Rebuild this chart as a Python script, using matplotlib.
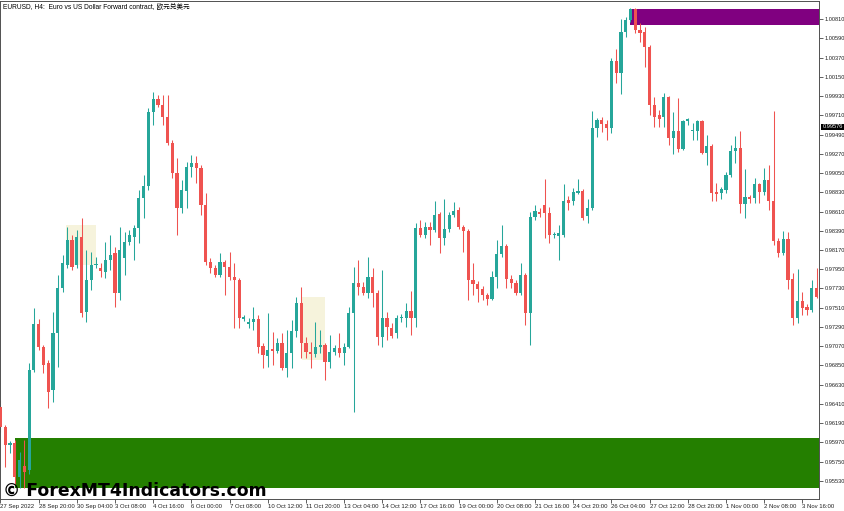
import numpy as np
import matplotlib
matplotlib.use('Agg')
import matplotlib.pyplot as plt
from matplotlib.patches import Rectangle

# EURUSD H4 candles (bar 0 = 27 Sep 12:00)
opens = [
    0.96375, 0.96147, 0.95941, 0.95964, 0.95575, 0.95701, 0.95655, 0.96798, 0.97324, 0.97061,
    0.96879, 0.96570, 0.97221, 0.97736, 0.97998, 0.98284, 0.97998, 0.98318, 0.97461, 0.97827,
    0.97998, 0.97964, 0.97918, 0.98055, 0.98136, 0.97679, 0.98079, 0.98261, 0.98318, 0.98422,
    0.98764, 0.98901, 0.99747, 0.99895, 0.99827, 0.99690, 0.99393, 0.99050, 0.98650, 0.98844,
    0.99118, 0.99164, 0.99107, 0.98684, 0.98032, 0.97964, 0.97884, 0.98032, 0.97975, 0.97861,
    0.97827, 0.97381, 0.97324, 0.97347, 0.97381, 0.97072, 0.96958, 0.97038, 0.97016, 0.97107,
    0.96822, 0.96993, 0.97244, 0.97564, 0.97107, 0.97004, 0.96981, 0.97061, 0.97084, 0.96890,
    0.97004, 0.97050, 0.96993, 0.97061, 0.97450, 0.97793, 0.97747, 0.97679, 0.97861, 0.97679,
    0.97175, 0.97393, 0.97279, 0.97221, 0.97393, 0.97393, 0.97473, 0.97393, 0.98422, 0.98341,
    0.98433, 0.98398, 0.98581, 0.98307, 0.98410, 0.98570, 0.98627, 0.98433, 0.98387, 0.97827,
    0.97781, 0.97724, 0.97656, 0.97610, 0.97861, 0.98124, 0.98215, 0.97838, 0.97793, 0.97679,
    0.97884, 0.97450, 0.98547, 0.98604, 0.98684, 0.98593, 0.98341, 0.98329, 0.98341, 0.98741,
    0.98730, 0.98821, 0.98844, 0.98558, 0.98650, 0.99565, 0.99656, 0.99610, 0.99565, 1.00330,
    1.00193, 1.00661, 1.00798, 1.00924, 1.00684, 1.00661, 1.00490, 0.99827, 0.99713, 0.99690,
    0.99918, 0.99450, 0.99530, 0.99324, 0.99645, 0.99530, 0.99530, 0.99645, 0.99279, 0.99358,
    0.98832, 0.98821, 0.98855, 0.99027, 0.99302, 0.99336, 0.98695, 0.98775, 0.98764, 0.98924,
    0.98832, 0.98970, 0.98730, 0.98273, 0.98136, 0.98295, 0.97838, 0.97393, 0.97587, 0.97518,
    0.97484, 0.97736]
highs = [
    0.96455, 0.96170, 0.95987, 0.95998, 0.95861, 0.95998, 0.96879, 0.97507, 0.97381, 0.97084,
    0.96913, 0.97461, 0.97884, 0.98113, 0.98433, 0.98341, 0.98398, 0.98536, 0.98170, 0.98147,
    0.98090, 0.98021, 0.98261, 0.98341, 0.98204, 0.98433, 0.98375, 0.98398, 0.98456, 0.98855,
    0.99027, 0.99793, 0.99975, 0.99941, 0.99941, 0.99941, 0.99427, 0.99222, 0.98970, 0.99175,
    0.99256, 0.99244, 0.99141, 0.98821, 0.98079, 0.97998, 0.98136, 0.98055, 0.98147, 0.98021,
    0.97850, 0.97427, 0.97393, 0.97518, 0.97427, 0.97107, 0.97450, 0.97232, 0.97164, 0.97221,
    0.97255, 0.97370, 0.97633, 0.97747, 0.97175, 0.97118, 0.97347, 0.97255, 0.97107, 0.97198,
    0.97084, 0.97221, 0.97107, 0.97518, 0.97975, 0.98055, 0.97804, 0.98090, 0.97964, 0.97713,
    0.97941, 0.97461, 0.97336, 0.97427, 0.97438, 0.97564, 0.97702, 0.98479, 0.98513, 0.98490,
    0.98490, 0.98730, 0.98604, 0.98752, 0.98604, 0.98718, 0.98661, 0.98456, 0.98410, 0.98021,
    0.97816, 0.97758, 0.97679, 0.97930, 0.98284, 0.98456, 0.98238, 0.97884, 0.97827, 0.98021,
    0.97907, 0.98604, 0.98684, 0.98650, 0.98981, 0.98661, 0.98375, 0.98456, 0.98924, 0.98786,
    0.98879, 0.98981, 0.98867, 0.98752, 0.99759, 0.99679, 0.99690, 0.99656, 1.00365, 1.00467,
    1.00810, 1.00833, 1.00936, 1.00936, 1.00764, 1.00718, 1.00513, 0.99918, 0.99770, 0.99964,
    0.99929, 0.99747, 0.99907, 0.99656, 0.99679, 0.99622, 0.99656, 0.99656, 0.99484, 0.99381,
    0.98936, 0.98890, 0.99061, 0.99370, 0.99472, 0.99530, 0.99095, 0.98798, 0.98993, 0.98936,
    0.99107, 0.99141, 0.99759, 0.98307, 0.98387, 0.98375, 0.97907, 0.97952, 0.97690, 0.97552,
    0.97827, 0.97964]
lows = [
    0.96090, 0.95690, 0.95850, 0.95495, 0.95450, 0.95450, 0.95609, 0.96775, 0.97027, 0.96764,
    0.96364, 0.96432, 0.96833, 0.97690, 0.97964, 0.97941, 0.97964, 0.97404, 0.97347, 0.97713,
    0.97964, 0.97861, 0.97850, 0.97941, 0.97518, 0.97598, 0.97884, 0.98227, 0.98055, 0.98250,
    0.98536, 0.98855, 0.99599, 0.99804, 0.99599, 0.99370, 0.98993, 0.98341, 0.98593, 0.98650,
    0.99004, 0.98936, 0.98570, 0.97998, 0.97907, 0.97861, 0.97861, 0.97656, 0.97827, 0.97279,
    0.97279, 0.97359, 0.97279, 0.97255, 0.96993, 0.96822, 0.96833, 0.96856, 0.96993, 0.96798,
    0.96718, 0.96822, 0.97175, 0.96936, 0.96936, 0.96822, 0.96947, 0.96993, 0.96684, 0.96822,
    0.96970, 0.96947, 0.96856, 0.97050, 0.96318, 0.97656, 0.97656, 0.97622, 0.97518, 0.97084,
    0.97061, 0.97141, 0.97164, 0.97164, 0.97347, 0.97290, 0.97198, 0.97290, 0.98318, 0.98307,
    0.98227, 0.98375, 0.98136, 0.98227, 0.98375, 0.98547, 0.98410, 0.98147, 0.97598, 0.97656,
    0.97575, 0.97598, 0.97541, 0.97598, 0.97736, 0.98090, 0.97736, 0.97736, 0.97656, 0.97656,
    0.97313, 0.97084, 0.98513, 0.98547, 0.98307, 0.98250, 0.98307, 0.98055, 0.98318, 0.98627,
    0.98684, 0.98809, 0.98513, 0.98479, 0.98627, 0.99461, 0.99518, 0.99427, 0.99507, 1.00079,
    0.99952, 1.00604, 1.00775, 1.00650, 1.00547, 1.00261, 0.99713, 0.99576, 0.99576, 0.99576,
    0.99370, 0.99267, 0.99290, 0.99313, 0.99599, 0.99427, 0.99427, 0.99267, 0.99141, 0.98730,
    0.98730, 0.98752, 0.98821, 0.99004, 0.99164, 0.98593, 0.98536, 0.98707, 0.98707, 0.98707,
    0.98798, 0.98627, 0.98227, 0.98090, 0.98113, 0.97724, 0.97313, 0.97336, 0.97427, 0.97427,
    0.97461, 0.97622]
closes = [
    0.96147, 0.95941, 0.95964, 0.95575, 0.95770, 0.95632, 0.96798, 0.97324, 0.97061, 0.96856,
    0.96547, 0.97221, 0.97736, 0.98021, 0.98284, 0.97975, 0.98318, 0.97450, 0.97827, 0.97998,
    0.98009, 0.97930, 0.98055, 0.98113, 0.97679, 0.98170, 0.98261, 0.98341, 0.98422, 0.98764,
    0.98901, 0.99747, 0.99895, 0.99827, 0.99690, 0.99393, 0.99050, 0.98650, 0.98855, 0.99118,
    0.99164, 0.99107, 0.98684, 0.98032, 0.97964, 0.97884, 0.98032, 0.97975, 0.97861, 0.97827,
    0.97393, 0.97404, 0.97347, 0.97381, 0.97061, 0.96970, 0.97027, 0.97016, 0.97107, 0.96822,
    0.96993, 0.97244, 0.97564, 0.97107, 0.97004, 0.96981, 0.97061, 0.97084, 0.96890, 0.97004,
    0.97050, 0.96993, 0.97061, 0.97450, 0.97793, 0.97747, 0.97679, 0.97861, 0.97679, 0.97175,
    0.97393, 0.97290, 0.97186, 0.97393, 0.97404, 0.97473, 0.97393, 0.98422, 0.98341, 0.98433,
    0.98398, 0.98570, 0.98307, 0.98410, 0.98570, 0.98616, 0.98433, 0.98387, 0.97827, 0.97781,
    0.97724, 0.97656, 0.97610, 0.97861, 0.98124, 0.98215, 0.97838, 0.97793, 0.97679, 0.97884,
    0.97450, 0.98547, 0.98616, 0.98581, 0.98593, 0.98341, 0.98352, 0.98364, 0.98730, 0.98707,
    0.98832, 0.98844, 0.98536, 0.98650, 0.99565, 0.99656, 0.99610, 0.99565, 1.00330, 1.00193,
    1.00661, 1.00798, 1.00924, 1.00684, 1.00650, 1.00490, 0.99827, 0.99690, 0.99667, 0.99918,
    0.99450, 0.99530, 0.99324, 0.99645, 0.99667, 0.99541, 0.99645, 0.99279, 0.99358, 0.98821,
    0.98809, 0.98867, 0.99027, 0.99302, 0.99336, 0.98695, 0.98775, 0.98752, 0.98924, 0.98832,
    0.98970, 0.98730, 0.98273, 0.98136, 0.98295, 0.97827, 0.97393, 0.97587, 0.97507, 0.97484,
    0.97736, 0.97633]

time_labels = ['27 Sep 2022', '28 Sep 20:00', '30 Sep 04:00', '3 Oct 08:00', '4 Oct 16:00',
               '6 Oct 00:00', '7 Oct 08:00', '10 Oct 12:00', '11 Oct 20:00', '13 Oct 04:00',
               '14 Oct 12:00', '17 Oct 16:00', '19 Oct 00:00', '20 Oct 08:00', '21 Oct 16:00',
               '24 Oct 20:00', '26 Oct 04:00', '27 Oct 12:00', '28 Oct 20:00', '1 Nov 00:00',
               '2 Nov 08:00', '3 Nov 16:00']
label_step = 8  # one time label every 8 bars

price_ticks = [1.00810 - 0.0022 * k for k in range(25)]
last_price = 0.99576

# supply / demand zones: (first bar, last bar, low, high)
supply_zone = (131.95, 180, 1.00741, 1.00930)
demand_zone = (2.95, 180, 0.95450, 0.96021)
fvg_zones = [(13.8, 20.0, 0.97998, 0.98456), (63.2, 67.9, 0.96913, 0.97633)]

title = 'EURUSD, H4:  Euro vs US Dollar Forward contract, 欧元兑美元'

bull = '#26a69a'
bear = '#ef5350'

o = np.array(opens); h = np.array(highs); l = np.array(lows); c = np.array(closes)
x = np.arange(len(o))
cols = [bull if cc >= oo else bear for oo, cc in zip(o, c)]

W, H = 845, 511
fig = plt.figure(figsize=(W / 100, H / 100), dpi=100)
ax = fig.add_axes([0, 12 / H, 819 / W, 498 / H])

# zones behind the candles
for x0, x1, y0, y1 in fvg_zones:
  ax.add_patch(Rectangle((x0, y0), x1 - x0, y1 - y0, color='#f6f3dc', lw=0, zorder=0))
ax.add_patch(Rectangle((supply_zone[0], supply_zone[2]), supply_zone[1] - supply_zone[0],
                       supply_zone[3] - supply_zone[2], color='#800080', lw=0, zorder=1))
ax.add_patch(Rectangle((demand_zone[0], demand_zone[2]), demand_zone[1] - demand_zone[0],
                       demand_zone[3] - demand_zone[2], color='#247f00', lw=0, zorder=1))

# candles
ax.vlines(x, l, h, colors=cols, linewidth=0.75, zorder=2)
body = np.maximum(np.abs(c - o), 0.00012)
ax.bar(x, body, width=0.66, bottom=np.minimum(o, c), color=cols, linewidth=0, zorder=3)

ax.set_xlim(-0.1, 171.5)
ax.set_ylim(0.95324, 1.01016)

ax.yaxis.tick_right()
ax.set_yticks(price_ticks, [f'{p:.5f}' for p in price_ticks])
ax.set_xticks(np.arange(len(time_labels)) * label_step, time_labels)
for lbl in ax.get_xticklabels():
  lbl.set_horizontalalignment('left')
ax.tick_params(axis='both', length=3, width=0.5, pad=0.8, colors='#202020')
ax.tick_params(axis='x', labelsize=4.3)
ax.tick_params(axis='y', labelsize=4.1)
for lbl in ax.get_xticklabels() + ax.get_yticklabels():
  lbl.set_fontfamily('Liberation Sans')
for s in ax.spines.values():
  s.set_color('#505050')
  s.set_linewidth(0.7)

# current price tag on the price scale
ax.text(1.004, last_price, f'{last_price:.5f}', transform=ax.get_yaxis_transform(),
        ha='left', va='center', fontsize=4.1, color='white', family='Liberation Sans',
        bbox=dict(facecolor='black', edgecolor='none', pad=0.6), clip_on=False)

fig.text(3 / W, 1 - 7 / H, title, fontsize=4.8, va='center', ha='left',
         family=['Liberation Sans', 'Noto Sans CJK SC'])
fig.text(3 / W, 20 / H, '© ForexMT4Indicators.com', fontsize=12.4, fontweight='bold',
         va='center', ha='left', color='black')

fig.savefig('out.png', dpi=100)
